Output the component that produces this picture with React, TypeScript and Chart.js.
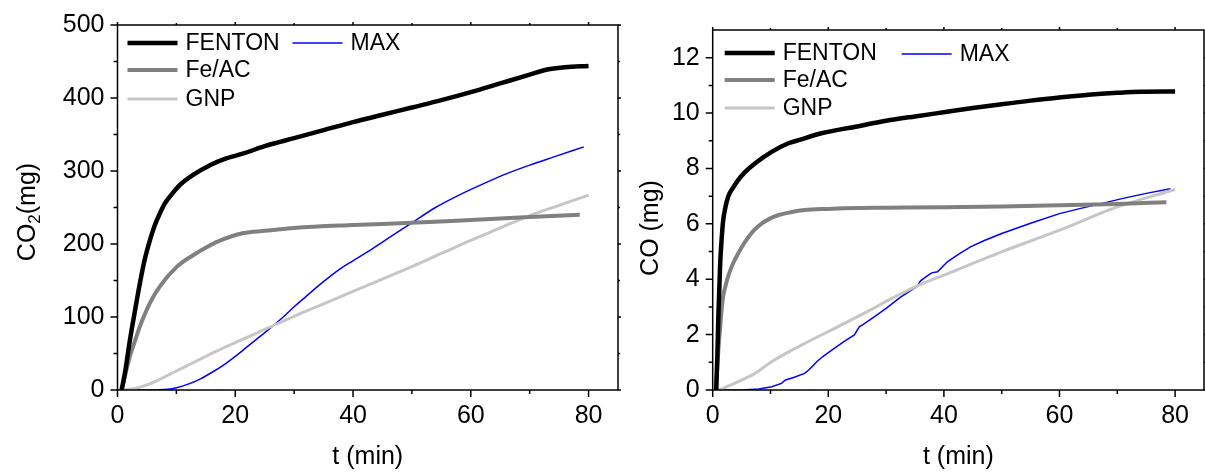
import React, { useEffect, useRef } from "react";
import { Chart, registerables } from "chart.js";

Chart.register(...registerables);

const FONT = '"Liberation Sans", Arial, Helvetica, sans-serif';

// ---- CO2 evolution (mg) vs time (min) ----
const co2FentonT = [0.7, 1.3, 2.1, 3, 3.8, 4.6, 5.5, 6.3, 7.2, 8, 8.9, 10.6, 12.9, 15.7, 18, 21.4, 25, 30, 35, 40, 45, 50, 55, 60, 65, 70, 73, 76, 80];
const co2FentonV = [0, 25, 68, 110, 146, 178, 205, 225, 242, 255, 265, 281, 295, 308, 316, 324, 334, 345, 356, 367, 377, 387, 397, 408, 420, 432, 439, 442, 444];

const co2FeacT = [0.7, 2.1, 3, 3.8, 5.5, 7.2, 10.1, 12.9, 15.2, 16.9, 21.4, 25, 30, 40, 50, 60, 70, 78.5];
const co2FeacV = [0, 46, 68, 87, 119, 142, 169, 185, 196, 203, 215, 218, 222, 226, 229, 233, 237, 240];

const co2GnpT = [1, 3, 5, 7, 10, 13, 15, 17, 20, 25, 30, 35, 40, 45, 50, 55, 60, 65, 70, 75, 80];
const co2GnpV = [0, 2, 7, 14, 26, 38, 46, 54, 65, 83, 101, 118, 135, 152, 169, 187, 205, 222, 239, 253, 267];

const co2MaxT = [0.5, 5, 8.6, 10, 12, 14, 16, 18, 20, 22, 24, 26, 28, 30, 32, 34, 36, 38, 40, 43, 46, 50, 54, 58, 62, 66, 70, 74, 79.2];
const co2MaxV = [0, 0, 1, 3, 8, 15, 24, 34, 46, 59, 72, 85, 99, 114, 128, 142, 155, 167, 177, 192, 208, 229, 250, 267, 282, 296, 308, 319, 333];

// ---- CO evolution (mg) vs time (min) ----
const coFentonT = [0.6, 0.8, 1.0, 1.3, 1.6, 1.8, 2.2, 2.7, 3.5, 4.4, 5.5, 7.3, 10.2, 13, 15, 18.8, 24.5, 30, 35, 40, 45, 50, 55, 60, 65, 70, 74, 80];
const coFentonV = [0, 1.2, 2.8, 4.6, 5.6, 6.1, 6.6, 7.0, 7.3, 7.58, 7.85, 8.18, 8.6, 8.9, 9.03, 9.27, 9.5, 9.72, 9.88, 10.03, 10.18, 10.32, 10.45, 10.56, 10.66, 10.73, 10.77, 10.78];

const coFeacT = [0.6, 0.8, 1.0, 1.26, 1.5, 1.8, 2.2, 2.7, 3.5, 4.4, 5.2, 6.1, 7.2, 8.4, 9.8, 11.3, 13.5, 15.9, 20, 25, 30, 40, 50, 60, 70, 78.5];
const coFeacV = [0, 0.8, 1.5, 2.17, 2.8, 3.37, 3.75, 4.12, 4.56, 4.93, 5.22, 5.5, 5.78, 6.0, 6.18, 6.31, 6.42, 6.5, 6.54, 6.57, 6.58, 6.6, 6.63, 6.67, 6.72, 6.78];

const coGnpT = [0.8, 2, 4.4, 7.3, 10.2, 15.9, 21.7, 27.4, 30, 35.3, 40, 50, 60, 70, 80];
const coGnpV = [0, 0.08, 0.3, 0.6, 1.02, 1.68, 2.29, 2.9, 3.2, 3.75, 4.15, 4.99, 5.77, 6.61, 7.24];

const coMaxT = [0.5, 5, 8, 10.2, 11.9, 12.6, 14, 15.9, 16.6, 17.1, 18, 19, 20.6, 22.5, 24.5, 25.4, 26, 28, 30, 32.5, 35.3, 36, 37.3, 37.9, 38.9, 40.6, 42.5, 44.6, 47, 50, 55, 60, 63.5, 67.2, 71, 75, 79.2];
const coMaxV = [0, 0, 0.04, 0.12, 0.24, 0.36, 0.45, 0.6, 0.72, 0.82, 1.02, 1.2, 1.44, 1.72, 1.99, 2.29, 2.36, 2.65, 2.95, 3.35, 3.73, 3.95, 4.15, 4.23, 4.27, 4.63, 4.9, 5.17, 5.4, 5.65, 6.02, 6.37, 6.55, 6.73, 6.92, 7.1, 7.27];

const seriesLabels = ["FENTON", "Fe/AC", "GNP", "MAX"];

type Series = {
  label: string;
  t: number[];
  v: number[];
  color: string;
  width: number;
  smooth: boolean;
};

const toPoints = (t: number[], v: number[]) => t.map((x, i) => ({ x, y: v[i] }));

// Box frame with major/minor ticks on all four sides.
const frameTicks = {
  id: "frameTicks",
  afterDraw(chart: any, _args: any, opts: any) {
    const { ctx, chartArea: a, scales } = chart;
    const xs = scales.x;
    const ys = scales.y;
    ctx.save();
    ctx.strokeStyle = "#000";
    ctx.lineWidth = 1.5;
    ctx.strokeRect(a.left, a.top, a.right - a.left, a.bottom - a.top);
    ctx.beginPath();
    const isMajor = (v: number, step: number) => Math.abs(v / step - Math.round(v / step)) < 1e-6;
    for (let v = xs.min; v <= xs.max + 1e-9; v += opts.xStep / 2) {
      const major = isMajor(v, opts.xStep);
      const px = xs.getPixelForValue(v);
      ctx.moveTo(px, a.bottom);
      ctx.lineTo(px, a.bottom + (major ? 7 : 4));
      ctx.moveTo(px, a.top);
      ctx.lineTo(px, a.top - (major ? 3 : 2));
    }
    for (let v = ys.min; v <= ys.max + 1e-9; v += opts.yStep / 2) {
      const major = isMajor(v, opts.yStep);
      if (!major && v >= ys.max - 1e-9) continue;
      const py = ys.getPixelForValue(v);
      ctx.moveTo(a.left, py);
      ctx.lineTo(a.left - (major ? 7 : 4), py);
      ctx.moveTo(a.right, py);
      ctx.lineTo(a.right + (major ? 3 : 2), py);
    }
    ctx.stroke();
    ctx.restore();
  },
};

// Two-column series key drawn inside the plot area.
const seriesKey = {
  id: "seriesKey",
  afterDatasetsDraw(chart: any, _args: any, opts: any) {
    const { ctx, chartArea: a } = chart;
    ctx.save();
    ctx.font = `${opts.fontSize}px ${FONT}`;
    ctx.textBaseline = "middle";
    ctx.fillStyle = "#000";
    opts.items.forEach((it: any) => {
      const ds = chart.data.datasets[it.index];
      const x = a.left + it.dx;
      const y = a.top + it.dy;
      ctx.strokeStyle = ds.borderColor;
      ctx.lineWidth = ds.borderWidth;
      ctx.beginPath();
      ctx.moveTo(x, y);
      ctx.lineTo(x + opts.lineLength, y);
      ctx.stroke();
      ctx.fillText(ds.label, x + opts.lineLength + opts.gap, y + 1);
    });
    ctx.restore();
  },
};

// Rotated y-axis title supporting a subscript part.
const yTitle = {
  id: "yTitle",
  afterDraw(chart: any, _args: any, opts: any) {
    const { ctx } = chart;
    const parts: { text: string; sub?: boolean }[] = opts.parts;
    const big = `${opts.fontSize}px ${FONT}`;
    const small = `${Math.round(opts.fontSize * 0.68)}px ${FONT}`;
    ctx.save();
    let total = 0;
    parts.forEach((p) => {
      ctx.font = p.sub ? small : big;
      total += ctx.measureText(p.text).width;
    });
    ctx.translate(opts.x, opts.y);
    ctx.rotate(-Math.PI / 2);
    ctx.fillStyle = "#000";
    ctx.textBaseline = "alphabetic";
    let cx = -total / 2;
    const base = opts.fontSize * 0.36;
    parts.forEach((p) => {
      ctx.font = p.sub ? small : big;
      ctx.fillText(p.text, cx, p.sub ? base + opts.fontSize * 0.2 : base);
      cx += ctx.measureText(p.text).width;
    });
    ctx.restore();
  },
};

type PanelProps = {
  width: number;
  left: number;
  series: Series[];
  yMax: number;
  yStep: number;
  padding: { left: number; right: number; top: number; bottom: number };
  yAxisWidth: number;
  titleParts: { text: string; sub?: boolean }[];
  titlePos: { x: number; y: number };
  keyItems: { index: number; dx: number; dy: number }[];
};

function Panel(p: PanelProps) {
  const ref = useRef<HTMLCanvasElement | null>(null);
  useEffect(() => {
    if (!ref.current) return;
    const tickFont = { family: FONT, size: 25 };
    const chart = new Chart(ref.current, {
      type: "line",
      data: {
        datasets: p.series.map((s) => ({
          label: s.label,
          data: toPoints(s.t, s.v),
          borderColor: s.color,
          borderWidth: s.width,
          pointRadius: 0,
          fill: false,
          tension: s.smooth ? 0.4 : 0,
          cubicInterpolationMode: s.smooth ? "monotone" : "default",
        })),
      },
      options: {
        animation: false,
        responsive: false,
        maintainAspectRatio: false,
        parsing: false,
        layout: { padding: p.padding },
        plugins: {
          legend: { display: false },
          tooltip: { enabled: false },
          frameTicks: { xStep: 20, yStep: p.yStep },
          seriesKey: { items: p.keyItems, fontSize: 23, lineLength: 50, gap: 8 },
          yTitle: { parts: p.titleParts, x: p.titlePos.x, y: p.titlePos.y, fontSize: 25 },
        } as any,
        scales: {
          x: {
            type: "linear",
            min: 0,
            max: 85,
            ticks: { stepSize: 20, includeBounds: false, font: tickFont, color: "#000", padding: 4, maxRotation: 0 },
            grid: { drawOnChartArea: false, tickLength: 7, tickColor: "rgba(0,0,0,0)" },
            border: { display: false },
            title: { display: true, text: "t (min)", font: tickFont, color: "#000", padding: { top: 0, bottom: 4 } },
            afterFit: (s: any) => {
              s.height = 86;
            },
          },
          y: {
            type: "linear",
            min: 0,
            max: p.yMax,
            ticks: { stepSize: p.yStep, includeBounds: false, font: tickFont, color: "#000", padding: 6 },
            grid: { drawOnChartArea: false, tickLength: 7, tickColor: "rgba(0,0,0,0)" },
            border: { display: false },
            afterFit: (s: any) => {
              s.width = p.yAxisWidth;
            },
          },
        },
      },
      plugins: [frameTicks, seriesKey, yTitle],
    } as any);
    return () => chart.destroy();
  }, []);
  return (
    <canvas
      ref={ref}
      width={p.width}
      height={476}
      style={{ position: "absolute", left: p.left, top: 0, width: p.width, height: 476 }}
    />
  );
}

const co2Series: Series[] = [
  { label: seriesLabels[0], t: co2FentonT, v: co2FentonV, color: "#000000", width: 4.5, smooth: true },
  { label: seriesLabels[1], t: co2FeacT, v: co2FeacV, color: "#808080", width: 4, smooth: true },
  { label: seriesLabels[2], t: co2GnpT, v: co2GnpV, color: "#c6c6c6", width: 3, smooth: true },
  { label: seriesLabels[3], t: co2MaxT, v: co2MaxV, color: "#0000ff", width: 1.5, smooth: true },
];

const coSeries: Series[] = [
  { label: seriesLabels[0], t: coFentonT, v: coFentonV, color: "#000000", width: 4.5, smooth: true },
  { label: seriesLabels[1], t: coFeacT, v: coFeacV, color: "#808080", width: 4, smooth: true },
  { label: seriesLabels[2], t: coGnpT, v: coGnpV, color: "#c6c6c6", width: 3, smooth: true },
  { label: seriesLabels[3], t: coMaxT, v: coMaxV, color: "#0000ff", width: 1.5, smooth: false },
];

export default function App() {
  return (
    <div
      style={{
        position: "fixed",
        left: 0,
        top: 0,
        width: 1205,
        height: 476,
        background: "#fff",
        overflow: "hidden",
      }}
    >
      <Panel
        width={640}
        left={0}
        series={co2Series}
        yMax={500}
        yStep={100}
        padding={{ left: 0, right: 22, top: 25, bottom: 0 }}
        yAxisWidth={117.5}
        titleParts={[{ text: "CO" }, { text: "2", sub: true }, { text: "(mg)" }]}
        titlePos={{ x: 26, y: 212 }}
        keyItems={[
          { index: 0, dx: 10, dy: 18 },
          { index: 3, dx: 175, dy: 18 },
          { index: 1, dx: 10, dy: 45 },
          { index: 2, dx: 10, dy: 74 },
        ]}
      />
      <Panel
        width={580}
        left={625}
        series={coSeries}
        yMax={13}
        yStep={2}
        padding={{ left: 0, right: 1, top: 30, bottom: 0 }}
        yAxisWidth={87.7}
        titleParts={[{ text: "CO (mg)" }]}
        titlePos={{ x: 24, y: 228 }}
        keyItems={[
          { index: 0, dx: 12, dy: 23 },
          { index: 3, dx: 189, dy: 24 },
          { index: 1, dx: 12, dy: 50 },
          { index: 2, dx: 12, dy: 78 },
        ]}
      />
    </div>
  );
}
